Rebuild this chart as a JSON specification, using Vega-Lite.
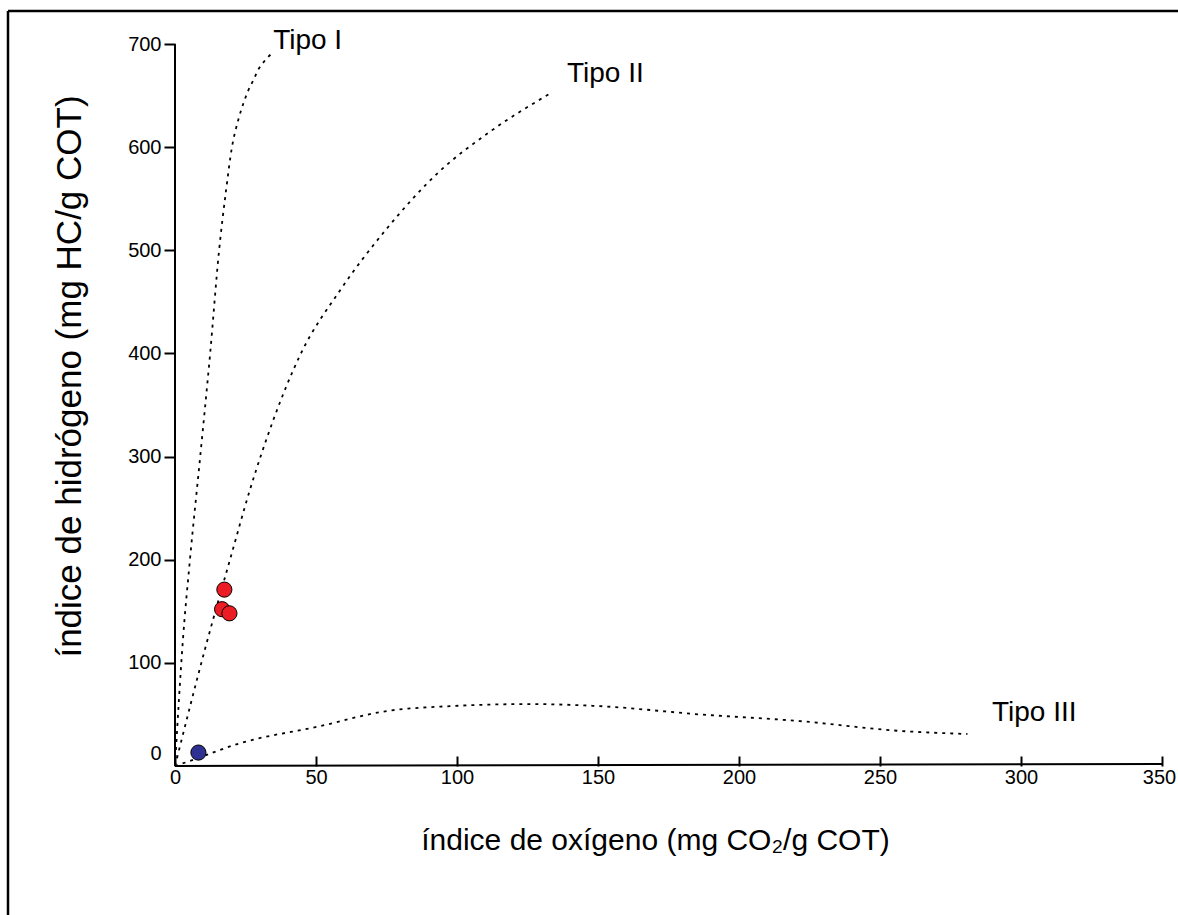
{
  "$schema": "https://vega.github.io/schema/vega-lite/v6.json",
  "width": 1170,
  "height": 904,
  "autosize": {"type": "none"},
  "padding": {"left": 8, "top": 11, "right": 0, "bottom": 0},
  "background": "white",
  "config": {
    "view": {"stroke": null},
    "font": "Liberation Sans",
    "axis": {"grid": false, "domain": false, "labelColor": "black", "titleColor": "black", "tickColor": "black", "titleFontWeight": "normal", "labelFont": "Liberation Sans", "titleFont": "Liberation Sans"}
  },
  "datasets": {
    "curves": [
      {"tipo": "I", "x": 0, "y": 0}, {"tipo": "I", "x": 2.8, "y": 122}, {"tipo": "I", "x": 5.3, "y": 200}, {"tipo": "I", "x": 8.9, "y": 299}, {"tipo": "I", "x": 12.4, "y": 398}, {"tipo": "I", "x": 15.6, "y": 499}, {"tipo": "I", "x": 18.1, "y": 558}, {"tipo": "I", "x": 20.2, "y": 600}, {"tipo": "I", "x": 22.4, "y": 626}, {"tipo": "I", "x": 24.2, "y": 642}, {"tipo": "I", "x": 26, "y": 655}, {"tipo": "I", "x": 27.8, "y": 665}, {"tipo": "I", "x": 29.5, "y": 675}, {"tipo": "I", "x": 31.6, "y": 683}, {"tipo": "I", "x": 34.4, "y": 691},
      {"tipo": "II", "x": 0, "y": 0}, {"tipo": "II", "x": 11.3, "y": 120}, {"tipo": "II", "x": 19.5, "y": 200}, {"tipo": "II", "x": 26.6, "y": 268}, {"tipo": "II", "x": 34.8, "y": 335}, {"tipo": "II", "x": 44.3, "y": 398}, {"tipo": "II", "x": 58.5, "y": 461}, {"tipo": "II", "x": 74.5, "y": 519}, {"tipo": "II", "x": 94, "y": 577}, {"tipo": "II", "x": 111.7, "y": 615}, {"tipo": "II", "x": 133, "y": 652},
      {"tipo": "III", "x": 0, "y": 0}, {"tipo": "III", "x": 4.3, "y": 3.9}, {"tipo": "III", "x": 23, "y": 22}, {"tipo": "III", "x": 51.4, "y": 38.6}, {"tipo": "III", "x": 74.5, "y": 53}, {"tipo": "III", "x": 97.5, "y": 58}, {"tipo": "III", "x": 126, "y": 60}, {"tipo": "III", "x": 150.7, "y": 58}, {"tipo": "III", "x": 186, "y": 50}, {"tipo": "III", "x": 221.6, "y": 43.5}, {"tipo": "III", "x": 257, "y": 34}, {"tipo": "III", "x": 281, "y": 31}
    ],
    "points": [
      {"x": 17.5, "y": 171, "grupo": "rojo"},
      {"x": 16.7, "y": 152, "grupo": "rojo"},
      {"x": 19.3, "y": 148, "grupo": "rojo"},
      {"x": 8.3, "y": 13, "grupo": "azul"}
    ],
    "labels": [
      {"x": 34.8, "y": 703, "label": "Tipo I"},
      {"x": 139, "y": 671, "label": "Tipo II"},
      {"x": 289.7, "y": 51, "label": "Tipo III"}
    ],
    "one": [{}]
  },
  "layer": [
    {
      "data": {"name": "curves"},
      "mark": {"type": "line", "interpolate": "monotone", "color": "black", "strokeWidth": 1.8, "strokeDash": [3, 5]},
      "encoding": {
        "x": {"field": "x", "type": "quantitative", "scale": {"domain": [-59.22, 355.67], "nice": false, "zero": false},
          "axis": {"values": [0, 50, 100, 150, 200, 250, 300, 350], "offset": -149, "tickSize": -10, "tickWidth": 2, "labelFontSize": 20, "labelPadding": 11, "labelOffset": {"condition": {"test": "datum.value == 350", "value": -3}, "value": 0}, "title": "índice de oxígeno (mg CO₂/g COT)", "titleFontSize": 30, "titlePadding": 38, "titleX": 647}},
        "y": {"field": "y", "type": "quantitative", "scale": {"domain": [-144.5, 732.0], "nice": false, "zero": false},
          "axis": {"values": [0, 100, 200, 300, 400, 500, 600, 700], "offset": -167, "tickSize": 11, "tickWidth": 2, "tickOpacity": {"condition": {"test": "datum.value == 0", "value": 0}, "value": 1}, "labelOffset": {"condition": {"test": "datum.value == 0", "value": -12}, "value": 0}, "labelFontSize": 20, "labelPadding": 3, "title": "índice de hidrógeno (mg HC/g COT)", "titleFontSize": 35, "titlePadding": 40, "titleY": 365}},
        "detail": {"field": "tipo", "type": "nominal"}
      }
    },
    {
      "data": {"name": "points"},
      "mark": {"type": "point", "filled": true, "shape": "circle", "size": 230, "stroke": "black", "strokeWidth": 1, "opacity": 1},
      "encoding": {
        "x": {"field": "x", "type": "quantitative"},
        "y": {"field": "y", "type": "quantitative"},
        "fill": {"field": "grupo", "type": "nominal", "scale": {"domain": ["rojo", "azul"], "range": ["#ec1c24", "#2e3192"]}, "legend": null}
      }
    },
    {
      "data": {"name": "labels"},
      "mark": {"type": "text", "align": "left", "baseline": "middle", "fontSize": 28, "font": "Liberation Sans", "color": "black"},
      "encoding": {
        "x": {"field": "x", "type": "quantitative"},
        "y": {"field": "y", "type": "quantitative"},
        "text": {"field": "label", "type": "nominal"}
      }
    },
    {
      "data": {"name": "one"},
      "mark": {"type": "rule", "color": "black", "strokeWidth": 2},
      "encoding": {
        "x": {"datum": 0, "type": "quantitative"},
        "y": {"datum": 0, "type": "quantitative"},
        "y2": {"datum": 700}
      }
    },
    {
      "data": {"name": "one"},
      "mark": {"type": "rule", "color": "black", "strokeWidth": 2},
      "encoding": {
        "x": {"datum": 0, "type": "quantitative"},
        "x2": {"datum": 350},
        "y": {"datum": 0, "type": "quantitative"},
        "y2": {"datum": 2}
      }
    },
    {
      "data": {"name": "one"},
      "mark": {"type": "rule", "color": "black", "strokeWidth": 2.5},
      "encoding": {
        "x": {"datum": -59.22, "type": "quantitative"}
      }
    },
    {
      "data": {"name": "one"},
      "mark": {"type": "rule", "color": "black", "strokeWidth": 2.5},
      "encoding": {
        "y": {"datum": 732.0, "type": "quantitative"}
      }
    }
  ]
}
